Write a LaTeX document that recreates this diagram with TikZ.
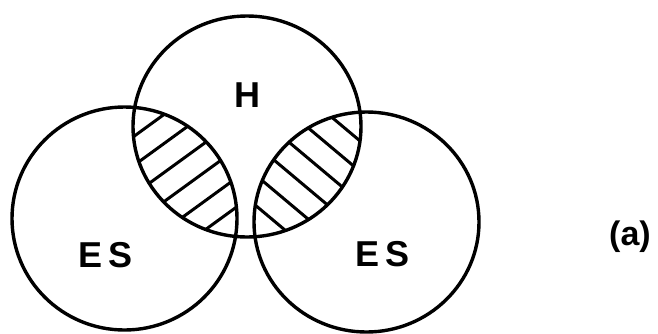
\documentclass[tikz,border=0pt]{standalone}
\usepackage{fontspec}
\setmainfont{Liberation Sans}
\begin{document}
\begin{tikzpicture}[x=1pt,y=-1pt,
  ring/.style={line width=3.4pt},
  hatchline/.style={line width=3pt},
  lbl/.style={font=\fontsize{36}{40}\selectfont\bfseries, inner sep=0pt}]
\useasboundingbox (0,0) rectangle (658,333);
% hatching: left lens
\begin{scope}
  \clip (247,126.5) ellipse [x radius=114pt, y radius=110.5pt];
  \clip (124.5,218.5) ellipse [x radius=112.5pt, y radius=111.5pt];
  \foreach \k in {0,...,5}{
    \pgfmathsetmacro{\c}{189+23.5*\k}
    \draw[hatchline] ({\c*0.588-150*0.809},{\c*0.809+150*0.588}) -- ({\c*0.588+150*0.809},{\c*0.809-150*0.588});
  }
\end{scope}
% hatching: right lens
\begin{scope}
  \clip (247,126.5) ellipse [x radius=114pt, y radius=110.5pt];
  \clip (366.5,222) ellipse [x radius=112.5pt, y radius=110pt];
  \foreach \k in {0,...,5}{
    \pgfmathsetmacro{\c}{-123.5+23.3*\k}
    \draw[hatchline] ({-\c*0.643},{\c*0.766}) -- ({-\c*0.643+550*0.766},{\c*0.766+550*0.643});
  }
\end{scope}
% circles
\draw[ring] (247,126.5) ellipse [x radius=114pt, y radius=110.5pt];
\draw[ring] (124.5,218.5) ellipse [x radius=112.5pt, y radius=111.5pt];
\draw[ring] (366.5,222) ellipse [x radius=112.5pt, y radius=110pt];
% labels
\node[lbl] (h) at (247.5,95) {H};
\node[lbl] (esl) at (106,255) {E\,S};
\node[lbl] (esr) at (383,254) {E\,S};
\node[lbl, font=\fontsize{34}{40}\selectfont\bfseries] (a) at (630,237) {(a)};
\end{tikzpicture}
\end{document}
